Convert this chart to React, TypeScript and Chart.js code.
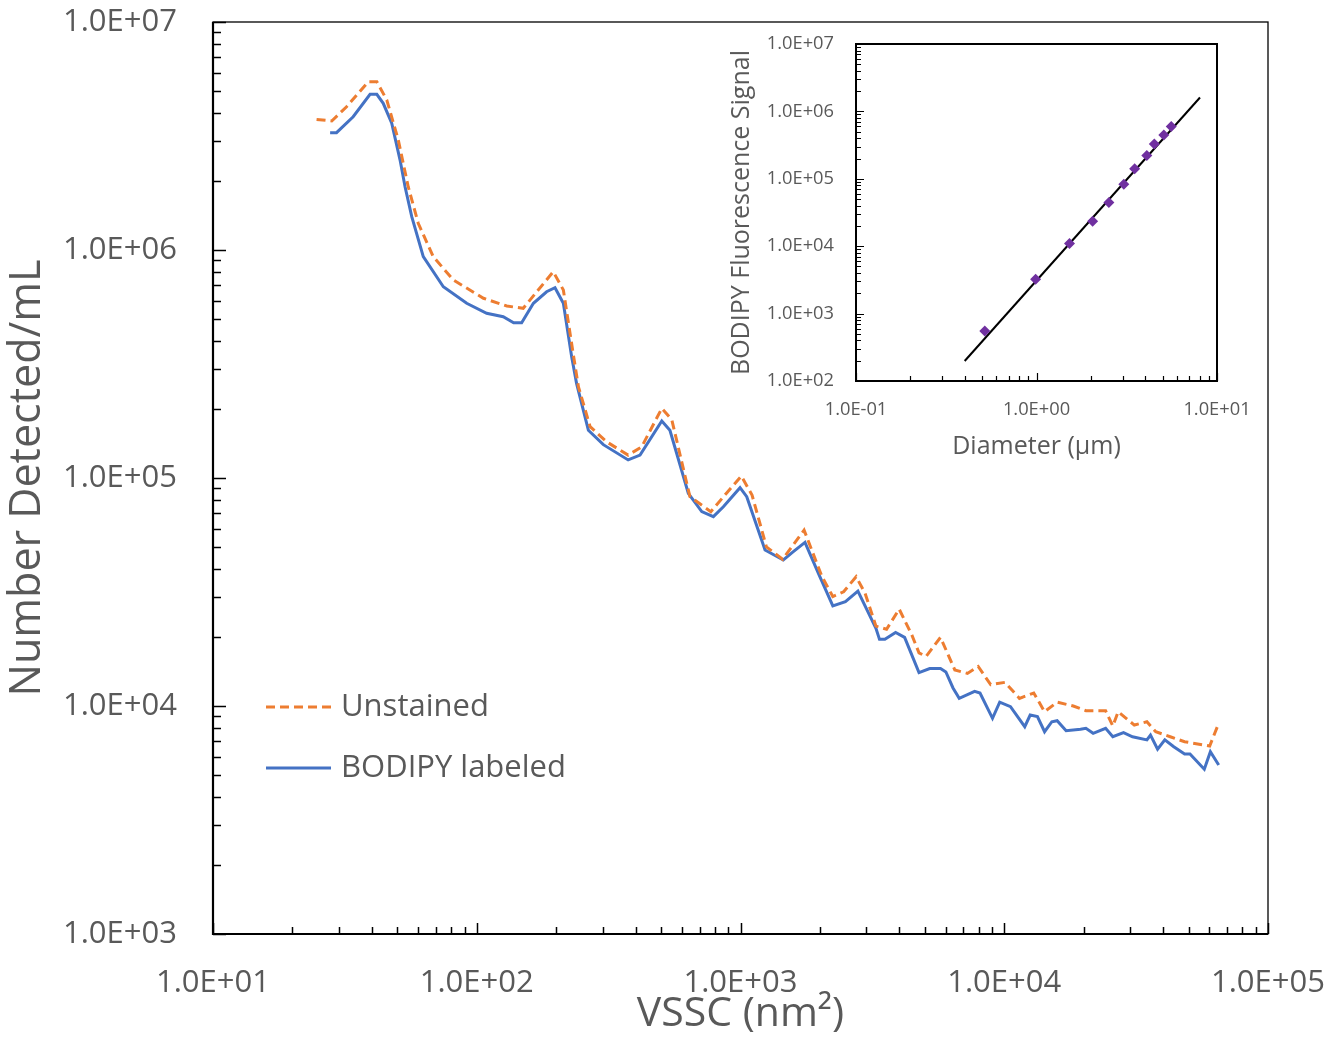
import React, { useEffect, useRef } from "react";
import { Chart, registerables } from "chart.js";

Chart.register(...registerables);

const W = 1334;
const H = 1041;
const FONT = "'Open Sans', sans-serif";
const TEXT = "#595959";

// ---------- main chart data ----------
const unstainedX = [24.7, 28.2, 32.1, 38.8, 41.8, 45.6, 50.4, 55.0, 60.0, 68.4, 81.5, 106, 130, 150, 195, 213, 232, 243, 269, 311, 375, 422, 503, 549, 643, 772, 888, 1007, 1106, 1254, 1444, 1742, 2037, 2239, 2460, 2744, 2968, 3262, 3580, 3997, 4462, 4751, 5055, 5732, 6494, 7251, 7967, 8883, 10070, 11420, 12940, 14220, 15870, 18270, 20400, 24230, 25800, 27040, 31130, 34750, 37540, 42580, 48290, 60110, 65030];
const unstainedY = [3.74e6, 3.68e6, 4.25e6, 5.47e6, 5.47e6, 4.55e6, 3.04e6, 1.89e6, 1.31e6, 9.35e5, 7.39e5, 6.14e5, 5.68e5, 5.55e5, 8.03e5, 6.68e5, 3.52e5, 2.51e5, 1.68e5, 1.44e5, 1.26e5, 1.37e5, 2.02e5, 1.80e5, 8.28e4, 7.12e4, 8.62e4, 1.02e5, 8.42e4, 4.99e4, 4.40e4, 5.91e4, 3.69e4, 3.02e4, 3.17e4, 3.69e4, 3.12e4, 2.24e4, 2.17e4, 2.66e4, 2.05e4, 1.71e4, 1.65e4, 2.00e4, 1.44e4, 1.39e4, 1.49e4, 1.24e4, 1.27e4, 1.08e4, 1.14e4, 9.44e3, 1.04e4, 1.00e4, 9.54e3, 9.54e3, 8.17e3, 9.44e3, 8.25e3, 8.53e3, 7.71e3, 7.33e3, 6.97e3, 6.68e3, 8.40e3];

const bodipyX = [27.8, 29.4, 34.0, 39.4, 41.8, 44.2, 47.6, 51.2, 53.5, 56.7, 62.7, 74.7, 91.6, 109, 126, 138, 148, 164, 184, 198, 213, 229, 239, 265, 302, 375, 416, 503, 540, 634, 713, 789, 861, 996, 1056, 1239, 1453, 1586, 1756, 1974, 2239, 2499, 2787, 3262, 3365, 3527, 3873, 4190, 4751, 5217, 5732, 6008, 6393, 6749, 7722, 8093, 9026, 9612, 10560, 11960, 12540, 13360, 14220, 15150, 15870, 17160, 19460, 20400, 21730, 24230, 25800, 28330, 30640, 34750, 35850, 38140, 40630, 43930, 48290, 50610, 57340, 60470, 65030];
const bodipyY = [3.27e6, 3.27e6, 3.84e6, 4.82e6, 4.82e6, 4.40e6, 3.60e6, 2.48e6, 1.89e6, 1.40e6, 9.35e5, 6.90e5, 5.84e5, 5.28e5, 5.10e5, 4.80e5, 4.80e5, 5.84e5, 6.56e5, 6.83e5, 5.84e5, 3.40e5, 2.60e5, 1.62e5, 1.40e5, 1.20e5, 1.26e5, 1.78e5, 1.62e5, 8.57e4, 7.12e4, 6.77e4, 7.48e4, 9.07e4, 8.28e4, 4.83e4, 4.37e4, 4.75e4, 5.22e4, 3.82e4, 2.75e4, 2.87e4, 3.19e4, 2.19e4, 1.96e4, 1.96e4, 2.10e4, 2.00e4, 1.40e4, 1.46e4, 1.46e4, 1.41e4, 1.20e4, 1.08e4, 1.16e4, 1.14e4, 8.83e3, 1.04e4, 9.93e3, 8.11e3, 9.13e3, 8.98e3, 7.71e3, 8.53e3, 8.62e3, 7.79e3, 7.90e3, 7.98e3, 7.59e3, 7.98e3, 7.33e3, 7.64e3, 7.33e3, 7.10e3, 7.46e3, 6.46e3, 7.10e3, 6.63e3, 6.16e3, 6.16e3, 5.28e3, 6.30e3, 5.51e3];

const mainXTicks = [1e1, 1e2, 1e3, 1e4, 1e5];
const mainXTickLabels = ["1.0E+01", "1.0E+02", "1.0E+03", "1.0E+04", "1.0E+05"];
const mainYTicks = [1e3, 1e4, 1e5, 1e6, 1e7];
const mainYTickLabels = ["1.0E+03", "1.0E+04", "1.0E+05", "1.0E+06", "1.0E+07"];

// ---------- inset data ----------
const insetDiameter = [0.517, 0.989, 1.524, 2.046, 2.517, 3.045, 3.498, 4.086, 4.494, 5.073, 5.578];
const insetSignal = [553, 3235, 10950, 23510, 44500, 83330, 140800, 222100, 327200, 445000, 598700];
const fitDiameter = [0.4, 8.05];
const fitSignal = [198, 1.61e6];

const insetXTicks = [0.1, 1, 10];
const insetXTickLabels = ["1.0E-01", "1.0E+00", "1.0E+01"];
const insetYTicks = [1e2, 1e3, 1e4, 1e5, 1e6, 1e7];
const insetYTickLabels = ["1.0E+02", "1.0E+03", "1.0E+04", "1.0E+05", "1.0E+06", "1.0E+07"];

// inward log ticks + frame
const axisFrame = {
  id: "axisFrame",
  afterDatasetsDraw(chart: any, _args: any, o: any) {
    const { ctx, chartArea: a } = chart;
    const xs = chart.scales.x;
    const ys = chart.scales.y;
    const each = (s: any, fn: (v: number, major: boolean) => void) => {
      const lo = Math.floor(Math.log10(s.min));
      const hi = Math.ceil(Math.log10(s.max));
      for (let d = lo; d <= hi; d++) {
        for (let m = 1; m <= 9; m++) {
          const v = m * Math.pow(10, d);
          if (v < s.min * 0.999 || v > s.max * 1.001) continue;
          fn(v, m === 1);
        }
      }
    };
    ctx.save();
    ctx.strokeStyle = "#000";
    ctx.lineWidth = o.tickWidth;
    ctx.beginPath();
    each(xs, (v, maj) => {
      const p = Math.round(xs.getPixelForValue(v)) + 0.5;
      ctx.moveTo(p, a.bottom);
      ctx.lineTo(p, a.bottom - (maj ? o.xMajor : o.xMinor));
    });
    each(ys, (v, maj) => {
      const p = Math.round(ys.getPixelForValue(v)) + 0.5;
      ctx.moveTo(a.left, p);
      ctx.lineTo(a.left + (maj ? o.yMajor : o.yMinor), p);
    });
    ctx.stroke();
    ctx.lineWidth = o.frameWidth;
    ctx.strokeRect(a.left, a.top, a.right - a.left, a.bottom - a.top);
    ctx.lineWidth = o.axisWidth;
    ctx.beginPath();
    ctx.moveTo(a.left, a.top);
    ctx.lineTo(a.left, a.bottom);
    ctx.lineTo(a.right, a.bottom);
    ctx.stroke();
    ctx.restore();
  },
};

// legend drawn inside the plot area
const insideLegend = {
  id: "insideLegend",
  afterDatasetsDraw(chart: any, _args: any, o: any) {
    const { ctx, chartArea: a } = chart;
    ctx.save();
    chart.data.datasets.forEach((ds: any, i: number) => {
      const y = o.y + i * o.rowGap;
      const x0 = a.left + o.x;
      ctx.strokeStyle = ds.borderColor;
      ctx.lineWidth = ds.borderWidth;
      ctx.setLineDash(ds.borderDash || []);
      ctx.beginPath();
      ctx.moveTo(x0, y);
      ctx.lineTo(x0 + o.lineLen, y);
      ctx.stroke();
      ctx.setLineDash([]);
      ctx.fillStyle = TEXT;
      ctx.font = `${o.fontSize}px ${FONT}`;
      ctx.textAlign = "left";
      ctx.textBaseline = "middle";
      ctx.fillText(ds.label, x0 + o.lineLen + o.gap, y);
    });
    ctx.restore();
  },
};

export default function App() {
  const mainRef = useRef<HTMLCanvasElement>(null);
  const insetRef = useRef<HTMLCanvasElement>(null);

  useEffect(() => {
    const main = new Chart(mainRef.current as HTMLCanvasElement, {
      type: "line",
      data: {
        datasets: [
          {
            label: "Unstained",
            data: unstainedX.map((x, i) => ({ x, y: unstainedY[i] })),
            borderColor: "#ED7D31",
            borderWidth: 3,
            borderDash: [9, 5],
            pointRadius: 0,
            tension: 0,
            fill: false,
          },
          {
            label: "BODIPY labeled",
            data: bodipyX.map((x, i) => ({ x, y: bodipyY[i] })),
            borderColor: "#4472C4",
            borderWidth: 3,
            pointRadius: 0,
            tension: 0,
            fill: false,
          },
        ],
      },
      options: {
        responsive: false,
        animation: false,
        devicePixelRatio: 1,
        layout: { padding: { left: 0, top: 22, right: 66, bottom: 0 } },
        plugins: {
          legend: { display: false },
          tooltip: { enabled: false },
          axisFrame: { tickWidth: 1.5, xMajor: 11, xMinor: 7, yMajor: 13, yMinor: 8, frameWidth: 1.3, axisWidth: 2.2 },
          insideLegend: { x: 53, y: 707, rowGap: 61, lineLen: 65, gap: 10, fontSize: 31 },
        } as any,
        scales: {
          x: {
            type: "logarithmic",
            position: "bottom",
            min: 10,
            max: 1e5,
            afterBuildTicks: (s: any) => {
              s.ticks = mainXTicks.map((v) => ({ value: v }));
            },
            afterFit: (s: any) => {
              s.height = 107;
            },
            ticks: {
              autoSkip: false,
              maxRotation: 0,
              padding: 0,
              color: TEXT,
              font: { family: FONT, size: 31 },
              callback: (_v: any, i: number) => mainXTickLabels[i],
            },
            grid: { display: false, drawTicks: true, tickLength: 31 },
            border: { display: false },
            title: {
              display: true,
              text: "VSSC (nm²)",
              color: TEXT,
              font: { family: FONT, size: 41 },
              padding: { top: 0, bottom: 2 },
            },
          },
          y: {
            type: "logarithmic",
            position: "left",
            min: 1e3,
            max: 1e7,
            afterBuildTicks: (s: any) => {
              s.ticks = mainYTicks.map((v) => ({ value: v }));
            },
            afterFit: (s: any) => {
              s.width = 213;
            },
            ticks: {
              autoSkip: false,
              padding: 0,
              color: TEXT,
              font: { family: FONT, size: 31 },
              callback: (_v: any, i: number) => mainYTickLabels[i],
            },
            grid: { display: false, drawTicks: true, tickLength: 36 },
            border: { display: false },
            title: {
              display: true,
              text: "Number Detected/mL",
              color: TEXT,
              font: { family: FONT, size: 43 },
              padding: { top: 2, bottom: 0 },
            },
          },
        },
      } as any,
      plugins: [axisFrame, insideLegend],
    });

    const inset = new Chart(insetRef.current as HTMLCanvasElement, {
      type: "scatter",
      data: {
        datasets: [
          {
            label: "Beads",
            data: insetDiameter.map((x, i) => ({ x, y: insetSignal[i] })),
            pointStyle: "rectRot",
            pointRadius: 5.5,
            backgroundColor: "#7030A0",
            borderColor: "#7030A0",
            borderWidth: 0,
            showLine: false,
          },
          {
            label: "Fit",
            data: fitDiameter.map((x, i) => ({ x, y: fitSignal[i] })),
            showLine: true,
            borderColor: "#000000",
            borderWidth: 2,
            pointRadius: 0,
          },
        ],
      },
      options: {
        responsive: false,
        animation: false,
        devicePixelRatio: 1,
        layout: { padding: { left: 700, top: 44, right: 117, bottom: 571 } },
        plugins: {
          legend: { display: false },
          tooltip: { enabled: false },
          axisFrame: { tickWidth: 1.2, xMajor: 8, xMinor: 5, yMajor: 8, yMinor: 5, frameWidth: 2, axisWidth: 2 },
        } as any,
        scales: {
          x: {
            type: "logarithmic",
            position: "bottom",
            min: 0.1,
            max: 10,
            afterBuildTicks: (s: any) => {
              s.ticks = insetXTicks.map((v) => ({ value: v }));
            },
            afterFit: (s: any) => {
              s.height = 89;
            },
            ticks: {
              autoSkip: false,
              maxRotation: 0,
              padding: 0,
              color: TEXT,
              font: { family: FONT, size: 18.3 },
              callback: (_v: any, i: number) => insetXTickLabels[i],
            },
            grid: { display: false, drawTicks: true, tickLength: 18 },
            border: { display: false },
            title: {
              display: true,
              text: "Diameter (μm)",
              color: TEXT,
              font: { family: FONT, size: 25 },
              padding: { top: 0, bottom: 8 },
            },
          },
          y: {
            type: "logarithmic",
            position: "left",
            min: 1e2,
            max: 1e7,
            afterBuildTicks: (s: any) => {
              s.ticks = insetYTicks.map((v) => ({ value: v }));
            },
            afterFit: (s: any) => {
              s.width = 156;
            },
            ticks: {
              autoSkip: false,
              padding: 0,
              color: TEXT,
              font: { family: FONT, size: 18.3 },
              callback: (_v: any, i: number) => insetYTickLabels[i],
            },
            grid: { display: false, drawTicks: true, tickLength: 22 },
            border: { display: false },
            title: {
              display: true,
              text: "BODIPY Fluorescence Signal",
              color: TEXT,
              font: { family: FONT, size: 25 },
              padding: { top: 27, bottom: 0 },
            },
          },
        },
      } as any,
      plugins: [axisFrame],
    });

    if ((document as any).fonts && (document as any).fonts.ready) {
      (document as any).fonts.ready.then(() => {
        main.update();
        inset.update();
      });
    }

    return () => {
      main.destroy();
      inset.destroy();
    };
  }, []);

  return (
    <div style={{ position: "fixed", left: 0, top: 0, width: W, height: H, background: "#ffffff", overflow: "hidden" }}>
      <canvas ref={mainRef} width={W} height={H} style={{ position: "absolute", left: 0, top: 0 }} />
      <canvas ref={insetRef} width={W} height={H} style={{ position: "absolute", left: 0, top: 0, pointerEvents: "none" }} />
    </div>
  );
}
